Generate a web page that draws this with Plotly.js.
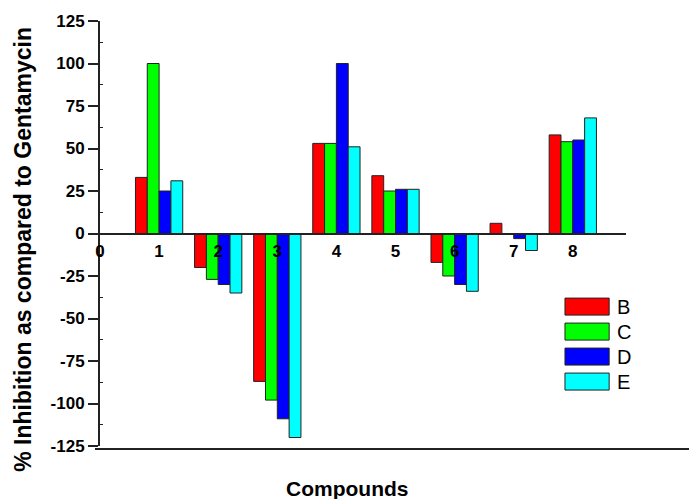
<!DOCTYPE html>
<html>
<head>
<meta charset="utf-8">
<script src="https://cdn.plot.ly/plotly-3.0.1.min.js"></script>
<style>html,body{margin:0;padding:0;background:#fff;}#chart{width:689px;height:499px;}</style>
</head>
<body>
<div id="chart"></div>
<script>
var compounds = [1, 2, 3, 4, 5, 6, 7, 8];
var seriesNames = ['B', 'C', 'D', 'E'];
var seriesColors = ['#ff0000', '#00ff00', '#0000ff', '#00ffff'];
var valuesB = [33, -20, -87, 53, 34, -17, 6, 58];
var valuesC = [100, -27, -98, 53, 25, -25, 0, 54];
var valuesD = [25, -30, -109, 100, 26, -30, -3, 55];
var valuesE = [31, -35, -120, 51, 26, -34, -10, 68];
var yTicks = [-125, -100, -75, -50, -25, 0, 25, 50, 75, 100, 125];
var xTicks = [0, 1, 2, 3, 4, 5, 6, 7, 8];
var yTitle = '% Inhibition as compared to Gentamycin';
var xTitle = 'Compounds';

var allValues = [valuesB, valuesC, valuesD, valuesE];
var FONT = '"Liberation Sans", Arial, sans-serif';

var traces = seriesNames.map(function (n, i) {
  return {
    type: 'bar', name: n, x: compounds, y: allValues[i],
    marker: {color: seriesColors[i], line: {color: '#222', width: 1}},
    showlegend: false, hoverinfo: 'x+y+name'
  };
});

var shapes = [{
  type: 'line', xref: 'paper', yref: 'paper',
  x0: -0.0095, x1: 1.12, y0: -0.007, y1: -0.007,
  line: {color: '#222', width: 2}
}];
var annotations = [];
seriesNames.forEach(function (n, i) {
  var top = 0.348 - i * 0.0588;
  shapes.push({
    type: 'rect', xref: 'paper', yref: 'paper',
    x0: 0.884, x1: 0.968, y0: top - 0.040, y1: top,
    fillcolor: seriesColors[i], line: {color: '#222', width: 1}
  });
  annotations.push({
    xref: 'paper', yref: 'paper', x: 0.979, y: top - 0.020,
    xanchor: 'left', yanchor: 'middle', showarrow: false,
    text: n, font: {family: FONT, size: 20, color: '#000'}
  });
});
annotations.push({
  xref: 'paper', yref: 'paper', x: 0.4696, y: -0.101,
  xanchor: 'center', yanchor: 'middle', showarrow: false,
  text: '<b>' + xTitle + '</b>', font: {family: FONT, size: 21, color: '#000'}
});
annotations.push({
  xref: 'paper', yref: 'paper', x: -0.148, y: 0.462,
  xanchor: 'center', yanchor: 'middle', showarrow: false, textangle: -90,
  text: '<b>' + yTitle + '</b>', font: {family: FONT, size: 23, color: '#000'}
});

var layout = {
  width: 689, height: 499,
  margin: {l: 100, r: 63, t: 21, b: 53},
  paper_bgcolor: '#fff', plot_bgcolor: '#fff',
  barmode: 'group', bargap: 0.2, bargroupgap: 0,
  showlegend: false,
  xaxis: {
    range: [0, 8.9], anchor: 'free', position: 0.5,
    tickvals: xTicks, ticktext: xTicks.map(String),
    showgrid: false, zeroline: false,
    showline: true, linecolor: '#222', linewidth: 2,
    ticks: '', ticklabelstandoff: 2,
    tickfont: {family: FONT, size: 17, color: '#000', weight: 'bold'}
  },
  yaxis: {
    range: [-125, 125], tickvals: yTicks, ticktext: yTicks.map(String),
    showgrid: false, zeroline: false,
    showline: true, linecolor: '#222', linewidth: 2,
    ticks: 'outside', ticklen: 10, tickwidth: 2, tickcolor: '#222',
    minor: {tickvals: yTicks.slice(0, -1).map(function (v) { return v + 12.5; }), ticks: 'inside', ticklen: 3, tickwidth: 1, tickcolor: '#222'},
    tickfont: {family: FONT, size: 17, color: '#000', weight: 'bold'}
  },
  shapes: shapes,
  annotations: annotations
};

Plotly.newPlot('chart', traces, layout, {displayModeBar: false, staticPlot: true});
</script>
</body>
</html>
